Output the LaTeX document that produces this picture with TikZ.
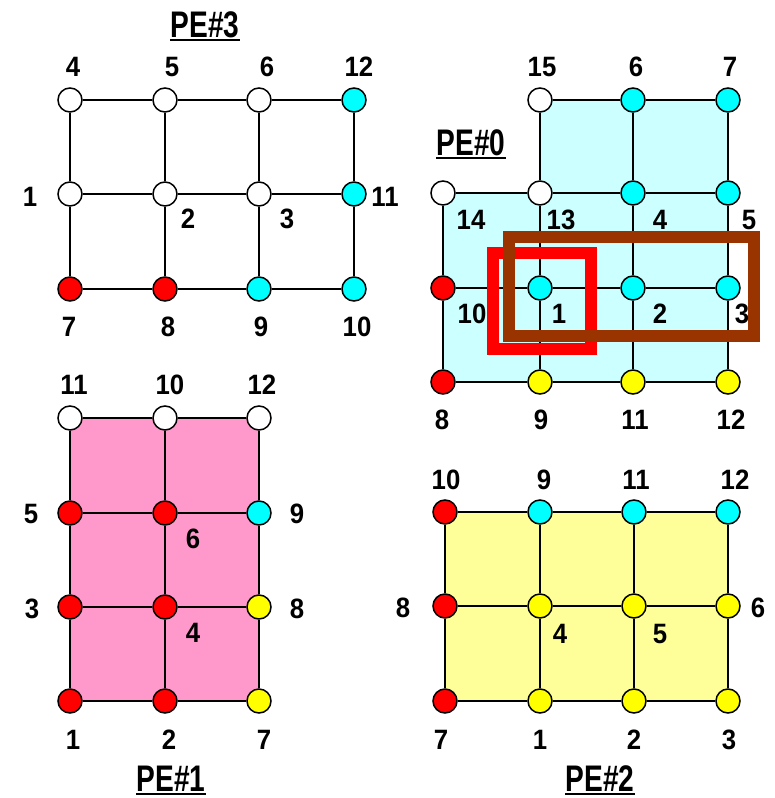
\documentclass[tikz,border=0pt]{standalone}
\usepackage{fontspec}
\setmainfont{Liberation Sans}
\newfontfamily\digitfont{Liberation Sans}[FakeStretch=0.92]
\newfontfamily\titlefont{Liberation Sans}[FakeStretch=0.76]
\definecolor{cy}{HTML}{00FFFF}
\definecolor{rd}{HTML}{FF0000}
\definecolor{yl}{HTML}{FFFF00}
\definecolor{wh}{HTML}{FFFFFF}
\definecolor{lcy}{HTML}{CCFFFF}
\definecolor{pk}{HTML}{FF99CC}
\definecolor{lyl}{HTML}{FFFF99}
\definecolor{brn}{HTML}{993300}
\begin{document}
\begin{tikzpicture}[x=1pt,y=-1pt,
  pt/.style={circle,draw=black,line width=1.5pt,minimum size=24pt,inner sep=0pt},
  edge/.style={line width=2pt,black},
  num/.style={font=\digitfont\bfseries\fontsize{28}{28}\selectfont,inner sep=0pt,anchor=center},
  ttl/.style={font=\titlefont\bfseries\fontsize{37}{37}\selectfont,inner sep=0pt,anchor=base},
  uline/.style={line width=2pt,black}]
\useasboundingbox (0,0) rectangle (774,798);
\fill[white] (0,0) rectangle (774,798);

% ---------- fills ----------
\fill[lcy] (540,100) -- (728,100) -- (728,382) -- (443,382) -- (443,193) -- (540,193) -- cycle;
\fill[pk] (70,418) rectangle (259,701);
\fill[lyl] (445,512) rectangle (728,701);

% ---------- PE#3 nodes ----------
\foreach \n/\x/\y/\c in {a1/70/100/wh,a2/165/100/wh,a3/259/100/wh,a4/354/100/cy,
  b1/70/194/wh,b2/165/194/wh,b3/259/194/wh,b4/354/194/cy,
  c1/70/289/rd,c2/165/289/rd,c3/259/289/cy,c4/354/289/cy}
  \node[pt,fill=\c] (t\n) at (\x,\y) {};
% ---------- PE#0 nodes ----------
\foreach \n/\x/\y/\c in {a2/540/100/wh,a3/633/100/cy,a4/728/100/cy,
  b1/443/193/wh,b2/540/193/wh,b3/633/193/cy,b4/728/193/cy,
  c1/443/288/rd,c2/540/288/cy,c3/633/288/cy,c4/728/288/cy,
  d1/443/382/rd,d2/540/382/yl,d3/633/382/yl,d4/728/382/yl}
  \node[pt,fill=\c] (z\n) at (\x,\y) {};
% ---------- PE#1 nodes ----------
\foreach \n/\x/\y/\c in {a1/70/418/wh,a2/165/418/wh,a3/259/418/wh,
  b1/70/513/rd,b2/165/513/rd,b3/259/513/cy,
  c1/70/607/rd,c2/165/607/rd,c3/259/607/yl,
  d1/70/701/rd,d2/165/701/rd,d3/259/701/yl}
  \node[pt,fill=\c] (o\n) at (\x,\y) {};
% ---------- PE#2 nodes ----------
\foreach \n/\x/\y/\c in {a1/445/512/rd,a2/540/512/cy,a3/634/512/cy,a4/728/512/cy,
  b1/445/606/rd,b2/540/606/yl,b3/634/606/yl,b4/728/606/yl,
  c1/445/701/rd,c2/540/701/yl,c3/634/701/yl,c4/728/701/yl}
  \node[pt,fill=\c] (w\n) at (\x,\y) {};

% ---------- edges ----------
\begin{scope}[edge]
% PE#3
\foreach \r in {a,b,c}{\draw (t\r1) -- (t\r2) -- (t\r3) -- (t\r4);}
\foreach \k in {1,2,3,4}{\draw (ta\k) -- (tb\k) -- (tc\k);}
% PE#0
\draw (za2) -- (za3) -- (za4);
\foreach \r in {b,c,d}{\draw (z\r1) -- (z\r2) -- (z\r3) -- (z\r4);}
\draw (zb1) -- (zc1) -- (zd1);
\foreach \k in {2,3,4}{\draw (za\k) -- (zb\k) -- (zc\k) -- (zd\k);}
% PE#1
\foreach \r in {a,b,c,d}{\draw (o\r1) -- (o\r2) -- (o\r3);}
\foreach \k in {1,2,3}{\draw (oa\k) -- (ob\k) -- (oc\k) -- (od\k);}
% PE#2
\foreach \r in {a,b,c}{\draw (w\r1) -- (w\r2) -- (w\r3) -- (w\r4);}
\foreach \k in {1,2,3,4}{\draw (wa\k) -- (wb\k) -- (wc\k);}
\end{scope}

% ---------- rectangles in PE#0 ----------
\draw[rd,line width=12pt] (493,253) rectangle (591,349);
\draw[brn,line width=12pt] (509,237) rectangle (754,336);

% ---------- labels PE#3 ----------
\foreach \t/\x/\y in {4/73/67,5/172/67,6/267/67,12/359/67,
  1/30/197,11/385/197,2/188/219,3/287/219,
  7/69/327,8/168/327,9/261/327,10/357/327}
  \node[num] (lt\t) at (\x,\y) {\t};
% ---------- labels PE#0 ----------
\foreach \t/\x/\y in {15/542/67,6/636/67,7/730/67,
  14/471/220,13/561/220,4/660/220,5/749/220,
  10/472/314,1/559/314,2/660/314,3/742/314,
  8/442/420,9/541/420,11/635/420,12/731/420}
  \node[num] (lz\t) at (\x,\y) {\t};
% ---------- labels PE#1 ----------
\foreach \t/\x/\y in {11/74/385,10/170/385,12/262/385,
  5/31/514,9/297/514,6/193/539,
  3/32/609,8/297/609,4/193/633,
  1/73/740,2/169/740,7/264/740}
  \node[num] (lo\t) at (\x,\y) {\t};
% ---------- labels PE#2 ----------
\foreach \t/\x/\y in {10/446/480,9/544/480,11/636/480,12/735/480,
  8/403/608,6/758/608,4/560/634,5/660/634,
  7/441/740,1/540/740,2/634/740,3/729/740}
  \node[num] (lw\t) at (\x,\y) {\t};

% ---------- titles ----------
\node[ttl] (T3) at (205,37) {PE\#3};
\node[ttl] (T0) at (471,155) {PE\#0};
\node[ttl] (T1) at (171,791) {PE\#1};
\node[ttl] (T2) at (600,791) {PE\#2};
\foreach \T in {T3,T0,T1,T2}
  \draw[uline] ([yshift=-3pt]\T.base west) -- ([yshift=-3pt]\T.base east);
\end{tikzpicture}
\end{document}
